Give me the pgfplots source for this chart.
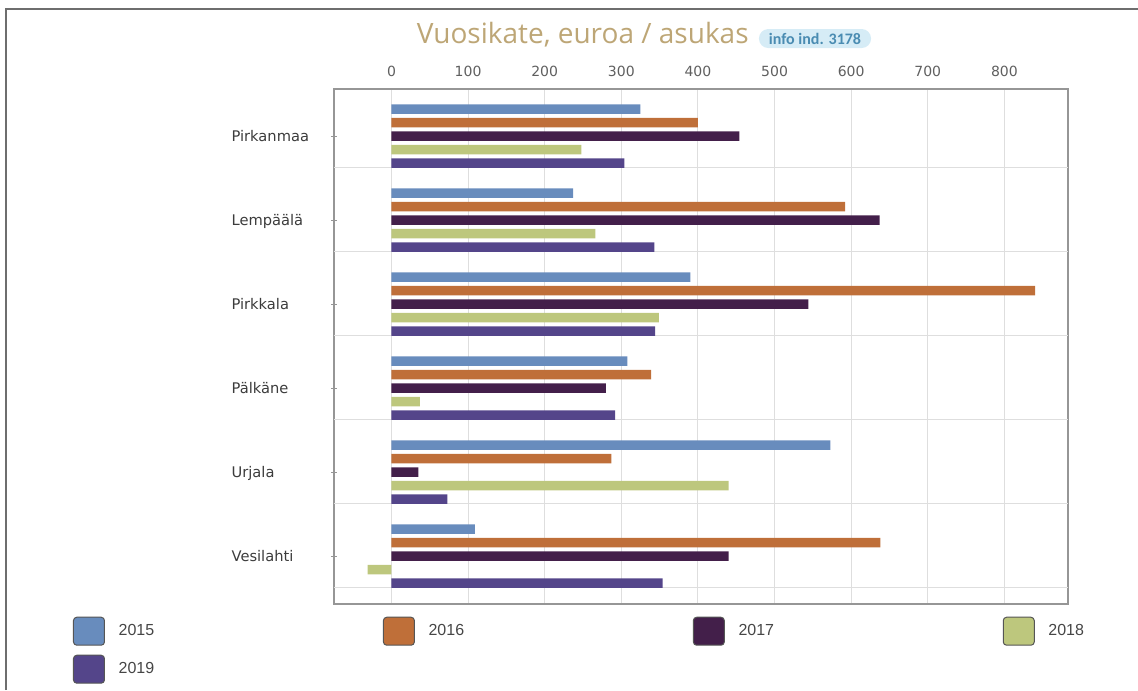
\documentclass[border=0pt]{standalone}
\usepackage{pgfplots}
\pgfplotsset{compat=1.18}
\usepackage{pgfplotstable}
\usepackage{fontspec}
\setmainfont{DejaVu Sans}
\newfontfamily\titlefont{Open Sans}
\newfontfamily\badgefont{Carlito}
\newfontfamily\legfont{Liberation Sans}

\definecolor{cA}{RGB}{104,140,189}
\definecolor{cB}{RGB}{191,111,57}
\definecolor{cC}{RGB}{67,31,74}
\definecolor{cD}{RGB}{189,199,125}
\definecolor{cE}{RGB}{84,69,138}
\definecolor{titlecol}{RGB}{189,166,118}
\definecolor{badgefill}{RGB}{214,236,246}
\definecolor{badgetext}{RGB}{74,140,178}
\definecolor{gridcol}{RGB}{222,222,222}
\definecolor{axcol}{RGB}{150,150,150}
\definecolor{tickcol}{RGB}{95,95,95}
\definecolor{labcol}{RGB}{60,60,60}
\definecolor{legtext}{RGB}{70,70,70}
\definecolor{legborder}{RGB}{85,85,85}
\definecolor{framecol}{RGB}{110,110,110}

\pgfplotstableread{
pos y2015 y2016 y2017 y2018 y2019
0 325 400 454 248 304
1 237 592 637 266 343
2 390 840 544 349 344
3 308 339 280 37 292
4 573 287 35 440 73
5 109 638 440 -31 354
}\datatable

\pgfplotsset{
  myleg/.style={legend image code/.code={\draw[##1, draw=legborder, line width=0.75pt, rounded corners=2.5pt] (0pt,-10.5pt) rectangle (23.25pt,10.5pt);}}
}

\begin{document}
\begin{tikzpicture}
\path[use as bounding box] (0pt,0pt) rectangle (853.5pt,-517.5pt);
\draw[framecol, line width=1.5pt] (4.5pt,-517.5pt) -- (4.5pt,-6.75pt) -- (853.5pt,-6.75pt);

\node[font=\titlefont\fontsize{21}{25}\selectfont, text=titlecol, anchor=base west, inner sep=0pt] at (312.5pt,-32.5pt) {Vuosikate, euroa / asukas};
\node[fill=badgefill, rounded corners=7pt, inner xsep=7.5pt, inner ysep=0pt, minimum height=14.25pt, text=badgetext, font=\badgefont\bfseries\fontsize{12}{14}\selectfont] at (611.25pt,-28.9pt) {info ind. 3178};

\begin{axis}[
  at={(250.5pt,-66.75pt)}, anchor=north west,
  scale only axis, width=550.5pt, height=386.25pt,
  xbar,
  xmin=-75, xmax=883,
  ymin=-0.56, ymax=5.571,
  y dir=reverse,
  xtick={0,100,...,800},
  xticklabel pos=upper,
  /pgf/number format/assume math mode=true,
  xticklabel style={font=\fontsize{10.5}{12}\selectfont, text=tickcol, anchor=base, inner sep=0pt, yshift=7.5pt},
  xtick style={draw=none},
  xmajorgrids,
  grid style={gridcol, line width=0.75pt},
  ytick={0,1,2,3,4,5},
  ytick pos=left,
  yticklabels={Pirkanmaa, Lempäälä, Pirkkala, Pälkäne, Urjala, Vesilahti},
  yticklabel style={font=\fontsize{11}{13}\selectfont, text=labcol, anchor=base west, inner sep=0pt, xshift=-75pt, yshift=-4pt},
  ytick style={axcol, line width=0.75pt},
  tick align=center,
  major tick length=4pt,
  extra y ticks={0.375,1.375,2.375,3.375,4.375,5.375},
  extra y tick labels={},
  extra y tick style={ymajorgrids=true, major tick length=0pt},
  axis line style={axcol, line width=1.1pt},
  legend columns=4,
  legend cell align=left,
  legend style={at={(-0.3556,-0.0247)}, anchor=north west, draw=none, fill=none,
    inner sep=0pt, outer sep=0pt, row sep=6.75pt,
    font=\legfont\fontsize{12}{14}\selectfont, text=legtext,
    /tikz/every odd column/.append style={column sep=8.25pt},
    /tikz/every even column/.append style={column sep=169.5pt}},
]
\addplot[fill=cA, draw=none, bar width=0.113, bar shift=-0.321, myleg] table[x=y2015, y=pos] {\datatable};
\addplot[fill=cB, draw=none, bar width=0.113, bar shift=-0.1605, myleg] table[x=y2016, y=pos] {\datatable};
\addplot[fill=cC, draw=none, bar width=0.113, bar shift=0, myleg] table[x=y2017, y=pos] {\datatable};
\addplot[fill=cD, draw=none, bar width=0.113, bar shift=0.1605, myleg] table[x=y2018, y=pos] {\datatable};
\addplot[fill=cE, draw=none, bar width=0.113, bar shift=0.321, myleg] table[x=y2019, y=pos] {\datatable};
\legend{2015,2016,2017,2018,2019}
\end{axis}
\end{tikzpicture}
\end{document}
